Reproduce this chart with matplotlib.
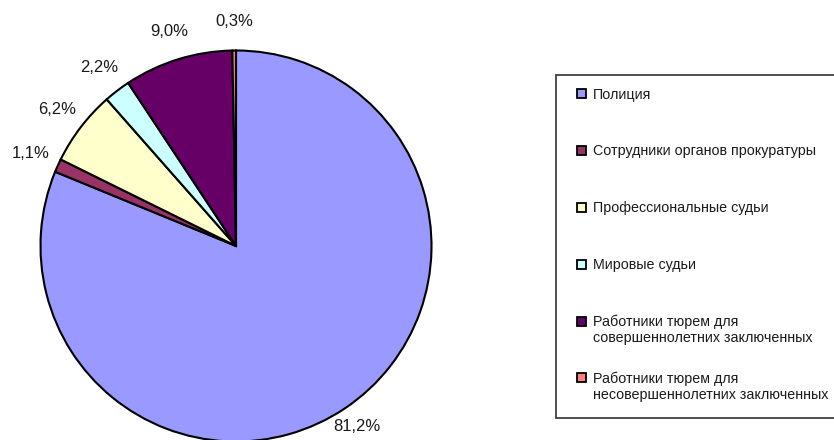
import numpy as np
import matplotlib.pyplot as plt
from matplotlib.patches import Rectangle

plt.rcParams['font.family'] = ['Liberation Sans', 'DejaVu Sans']

# share of staff by category, %
categories = [
    "Полиция",
    "Сотрудники органов прокуратуры",
    "Профессиональные судьи",
    "Мировые судьи",
    "Работники тюрем для\nсовершеннолетних заключенных",
    "Работники тюрем для\nнесовершеннолетних заключенных",
]
shares = [81.2, 1.1, 6.2, 2.2, 9.0, 0.3]
colors = ["#9999FF", "#993366", "#FFFFCC", "#CCFFFF", "#660066", "#FF8080"]

W, H = 834, 440


def pct_label(p):
    return f"{p:.1f}%".replace(".", ",")


fig = plt.figure(figsize=(W / 100, H / 100), dpi=100)

# pie: centre ~(236, 246) px, radius ~195 px
cx, cy, r = 236, 246, 195.5
ax = fig.add_axes([(cx - r) / W, (H - cy - r) / H, 2 * r / W, 2 * r / H])
wedges, texts, autotexts = ax.pie(
    shares, colors=colors, startangle=90, counterclock=False,
    autopct=pct_label, pctdistance=1.15,
    wedgeprops=dict(edgecolor="black", linewidth=1.5),
    textprops=dict(fontsize=12, color="#1a1a1a"),
)
for w, t in zip(wedges, autotexts):
    w.set_clip_on(False)
    # labels below the centre sit a little closer, like in the source chart
    ang = np.deg2rad((w.theta1 + w.theta2) / 2)
    if np.sin(ang) < 0:
        t.set_position((1.11 * np.cos(ang), 1.11 * np.sin(ang)))
ax.set_xlim(-1, 1)
ax.set_ylim(-1, 1)
ax.set_aspect("equal")
ax.axis("off")

# legend drawn in pixel coordinates on an overlay axes
lax = fig.add_axes([0, 0, 1, 1], zorder=-1)
lax.set_xlim(0, W)
lax.set_ylim(H, 0)
lax.axis("off")

lax.add_patch(Rectangle((556, 75), 300, 343, facecolor="white",
                        edgecolor="#404040", linewidth=1.3, clip_on=False))
y0, step = 94, 56.8
for i, (label, color) in enumerate(zip(categories, colors)):
    y = y0 + i * step
    lax.add_patch(Rectangle((577, y - 4.5), 9, 9, facecolor=color,
                            edgecolor="black", linewidth=1.3))
    for k, line in enumerate(label.split("\n")):
        lax.text(593, y + 4.5 + k * 16, line, fontsize=10.3, color="#1a1a1a",
                 ha="left", va="baseline")

fig.savefig("out.png", dpi=100)
